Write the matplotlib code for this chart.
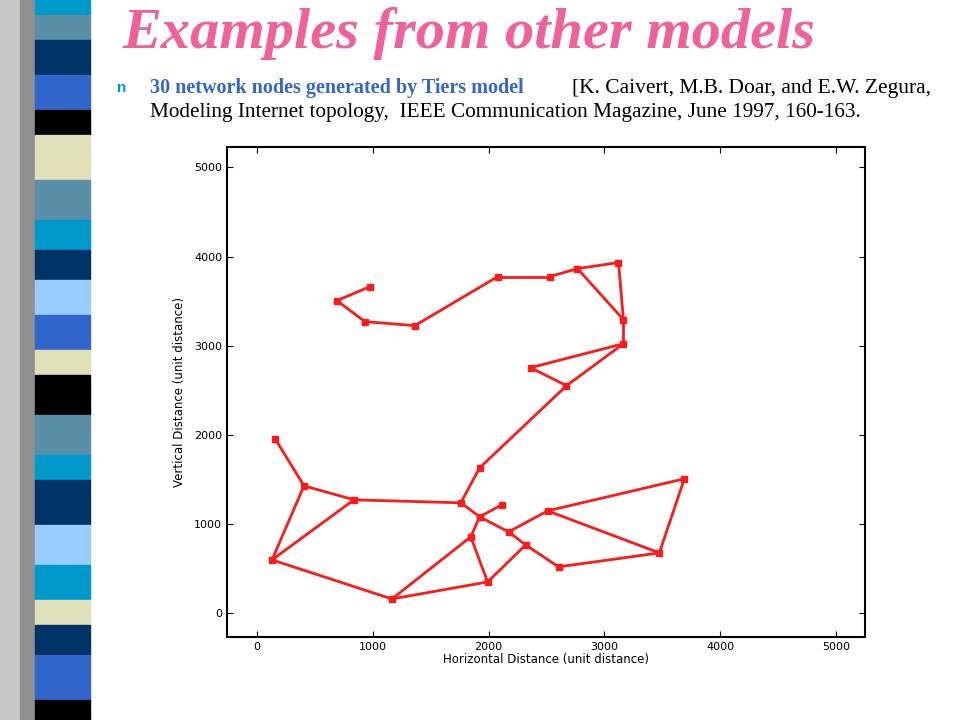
import matplotlib.pyplot as plt
from matplotlib.patches import Rectangle

# node coordinates (unit distance)
node_x = [974, 690, 931, 1362, 2078, 2526, 2767, 3121, 3164, 3164,
          2362, 2672, 1922, 155, 405, 836, 1759, 2112, 1922, 2172,
          1845, 2319, 2509, 3474, 3690, 2603, 1991, 129, 1164]
node_y = [3663, 3506, 3270, 3225, 3775, 3775, 3865, 3933, 3292, 3022,
          2753, 2551, 1629, 1955, 1427, 1270, 1236, 1213, 1079, 910,
          854, 764, 1146, 674, 1506, 517, 348, 596, 157]
# edges between node numbers (1-based)
edges = [(1, 2), (2, 3), (3, 4), (4, 5), (5, 6), (6, 7), (7, 8), (8, 9), (7, 9),
         (9, 10), (10, 11), (11, 12), (10, 12), (12, 13), (13, 17), (17, 16),
         (16, 15), (15, 14), (15, 28), (16, 28), (28, 29), (29, 27), (27, 22),
         (19, 20), (20, 22), (22, 26), (26, 24), (24, 25), (25, 23), (23, 24),
         (23, 20), (29, 21), (21, 19), (21, 27), (19, 18), (17, 19)]

ticks = [0, 1000, 2000, 3000, 4000, 5000]

# left decorative stripe: (colour, top, bottom) in pixels
stripes = [("#0099cc", 0, 15), ("#5a8fa8", 15, 40), ("#003366", 40, 75),
           ("#3366cc", 75, 110), ("#000000", 110, 135), ("#e0e0bb", 135, 180),
           ("#5a8fa8", 180, 220), ("#0099cc", 220, 250), ("#003366", 250, 280),
           ("#99ccff", 280, 315), ("#3366cc", 315, 350), ("#e0e0bb", 350, 375),
           ("#000000", 375, 415), ("#5a8fa8", 415, 455), ("#0099cc", 455, 480),
           ("#003366", 480, 525), ("#99ccff", 525, 565), ("#0099cc", 565, 600),
           ("#e0e0bb", 600, 625), ("#003366", 625, 655), ("#3366cc", 655, 700),
           ("#000000", 700, 720)]

fig = plt.figure(figsize=(9.6, 7.2), dpi=100)
W, H = 960, 720

# shadow and stripes
fig.patches.append(Rectangle((0, 0), 35 / W, 1, transform=fig.transFigure,
                             color="#c8c8c8", zorder=0))
fig.patches.append(Rectangle((20 / W, 0), 15 / W, 1, transform=fig.transFigure,
                             color="#909090", zorder=0))
for col, top, bot in stripes:
    fig.patches.append(Rectangle((35 / W, 1 - bot / H), 55 / W, (bot - top) / H,
                                 transform=fig.transFigure, color=col, zorder=1))

fig.text(122 / W, 1 - 33 / H, "Examples from other models", fontsize=42,
         family="Liberation Serif", style="italic", weight="bold", color="#f0609a",
         va="center")
fig.text(117 / W, 1 - 88 / H, "n", fontsize=11, family="Liberation Sans", weight="bold",
         color="#0099cc", va="center")
fig.text(150 / W, 1 - 88 / H, "30 network nodes generated by Tiers model", fontsize=14.5,
         family="Liberation Serif", weight="bold", color="#3366cc", va="center")
fig.text(572 / W, 1 - 88 / H, "[K. Caivert, M.B. Doar, and E.W. Zegura,", fontsize=15.5,
         family="Liberation Serif", va="center")
fig.text(150 / W, 1 - 112 / H,
         "Modeling Internet topology,  IEEE Communication Magazine, June 1997, 160-163.",
         fontsize=15.3, family="Liberation Serif", va="center")

ax = fig.add_axes([227 / W, 1 - 637 / H, 638 / W, 490 / H])
for a, b in edges:
    ax.plot([node_x[a - 1], node_x[b - 1]], [node_y[a - 1], node_y[b - 1]],
            color="#ff1a1a", lw=2, zorder=2)
ax.plot(node_x, node_y, "s", color="#ff1a1a", ms=5, zorder=3)
ax.set_xlim(-260, 5250)
ax.set_ylim(-270, 5230)
ax.set_xticks(ticks)
ax.set_yticks(ticks)
ax.tick_params(labelsize=8, direction="in", length=4, top=True, right=True)
for s in ax.spines.values():
    s.set_linewidth(1.5)
ax.set_xlabel("Horizontal Distance (unit distance)", fontsize=8.5, labelpad=1)
ax.set_ylabel("Vertical Distance (unit distance)", fontsize=8.5, labelpad=6)

fig.savefig("out.png", dpi=100)
